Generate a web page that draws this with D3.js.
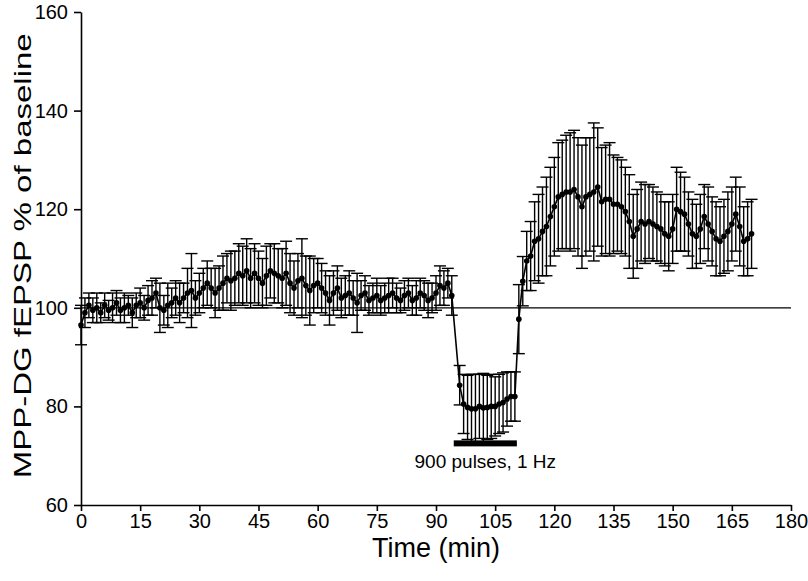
<!DOCTYPE html>
<html>
<head>
<meta charset="utf-8">
<script src="https://cdn.jsdelivr.net/npm/d3@7"></script>
<style>
  body { margin: 0; background: #fff; }
  svg { display: block; }
  .tick text { font-family: "Liberation Sans Narrow", "Liberation Sans", Arial, sans-serif; }
</style>
</head>
<body>
<div id="grafico"></div>
<script>
// baseline (min 0-94)
const tempoBase = [0,1,2,3,4,5,6,7,8,9,10,11,12,13,14,15,16,17,18,19,20,21,22,23,24,25,26,27,28,29,
  30,31,32,33,34,35,36,37,38,39,40,41,42,43,44,45,46,47,48,49,50,51,52,53,54,55,56,57,58,59,
  60,61,62,63,64,65,66,67,68,69,70,71,72,73,74,75,76,77,78,79,80,81,82,83,84,85,86,87,88,89,
  90,91,92,93,94];
const mediaBase = [96.5,99,100.5,99.5,100,99,100.5,99.5,100,101,
  99.5,100,100.5,99,100.5,101,100,101.5,102,103,
  100,99.5,100.5,101,102,101,102,103,103.5,102,
  103,104,105,104,103,104,105,106,105.5,106,
  107,106.5,107.5,106,107,106,105,106.5,107.5,107,
  106.5,106,107,105,104,105.5,106,104.5,103.5,104.5,
  105,104,103,101.5,103,104,102,102.5,103,102,
  101,102.5,103,101.5,102,102.5,101.5,102,102.5,103,
  102,101.5,102.5,103,101.5,102,103,102.5,101.5,102,
  103,104.5,104,105,102.5];
const epmBase = [4,3,2.5,2.5,3,2,2.5,2,3,2.5,
  2.5,3,2,3,2.5,3,2.5,3,3.5,3,
  5,3,4.5,3,3.5,4,3,5,7.5,3.5,
  4,4,4.5,4,5,4.5,5.5,5,6,5.5,
  6,6,6.5,6,6,5.5,5,6,5.5,6,
  5.5,6,6.5,6,5.5,5.5,8,6,7,5.5,
  5,5,4.5,5,4.5,4.5,4,4,4.5,3.5,
  6,3,3.5,3,3,3.5,3,3,3.5,3,
  3,2.5,3,3,3,3.5,3,3,3.5,3,
  3.5,4,3.5,3,4];

// durante a estimulação de baixa frequência
const tempoLFS = [96,97,98,99,100,101,102,103,104,105,106,107,108,109,110];
const mediaLFS = [84.3,80.5,79.8,79.5,79.5,80,79.7,79.8,80,80,80.5,80.8,81.5,82,82];
const epmLFS = [4,6,6.5,7,7,6.5,7,6.5,6.5,6,6,6,5.5,5,5];

// após a estimulação
const tempoPos = [111,112,113,114,115,116,117,118,119,120,121,122,123,124,125,126,127,128,129,130,
  131,132,133,134,135,136,137,138,139,140,141,142,143,144,145,146,147,148,149,150,
  151,152,153,154,155,156,157,158,159,160,161,162,163,164,165,166,167,168,169,170];
const mediaPos = [97.7,105.4,109.5,110.5,113.5,114,115.5,116.5,118.5,120.5,
  122.5,123,123.5,123.5,124,122.5,120.5,122.5,123,123.5,
  124.5,121.5,122,122,121,121,120.5,119.5,117.5,114.5,
  116,117.5,117,117.5,117,116.5,116,115,114.5,116,
  120,119.5,119,117,115,114.5,116,118.5,117,115.5,
  114,113.5,114.5,115.5,117,119,116.5,113.5,114,115];
const epmPos = [7,5,6,7,8,9,9,10,10,10,
  11,11,11.5,12,12,12,12.5,12,11.5,14,
  12,11,11,11.5,10,9.5,9.5,9,9.5,8.5,
  8,8,8,7.5,7.5,7,7,6.5,7,7,
  8.5,8,7.5,6.5,7,6.5,7,6.5,7.5,7,
  7.5,7,7.5,8,7.5,7.5,8,7,7.5,7];

const ticksX = [0,15,30,45,60,75,90,105,120,135,150,165,180];
const ticksY = [60,80,100,120,140,160];
const inicioLFS = 94.5, fimLFS = 110.5, nivelBarra = 72.5;
const rotuloLFS = "900 pulses, 1 Hz";

// junta as três fases
const pontos = [];
tempoBase.forEach((t, i) => pontos.push({t, m: mediaBase[i], e: epmBase[i]}));
tempoLFS.forEach((t, i) => pontos.push({t, m: mediaLFS[i], e: epmLFS[i]}));
tempoPos.forEach((t, i) => pontos.push({t, m: mediaPos[i], e: epmPos[i]}));

const largura = 808, altura = 581;
const x = d3.scaleLinear().domain([0, 180]).range([81, 791]);
const y = d3.scaleLinear().domain([60, 160]).range([505, 12]);

const svg = d3.select("#grafico").append("svg")
    .attr("width", largura)
    .attr("height", altura);

// linha de referência em 100%
svg.append("line")
    .attr("x1", x(0)).attr("x2", x(180))
    .attr("y1", y(100)).attr("y2", y(100))
    .attr("stroke", "#000").attr("stroke-width", 1.2);

// barras de erro
const cap = 6;
const erros = svg.append("g")
    .attr("stroke", "#000")
    .attr("stroke-width", 1.4)
  .selectAll("g")
  .data(pontos)
  .join("g");
erros.append("line")
    .attr("x1", d => x(d.t)).attr("x2", d => x(d.t))
    .attr("y1", d => y(d.m - d.e)).attr("y2", d => y(d.m + d.e));
erros.append("line")
    .attr("x1", d => x(d.t) - cap).attr("x2", d => x(d.t) + cap)
    .attr("y1", d => y(d.m + d.e)).attr("y2", d => y(d.m + d.e));
erros.append("line")
    .attr("x1", d => x(d.t) - cap).attr("x2", d => x(d.t) + cap)
    .attr("y1", d => y(d.m - d.e)).attr("y2", d => y(d.m - d.e));

// linha das médias
svg.append("path")
    .datum(pontos)
    .attr("fill", "none")
    .attr("stroke", "#000")
    .attr("stroke-width", 1.6)
    .attr("d", d3.line().x(d => x(d.t)).y(d => y(d.m)));

svg.append("g")
  .selectAll("circle")
  .data(pontos)
  .join("circle")
    .attr("cx", d => x(d.t))
    .attr("cy", d => y(d.m))
    .attr("r", 2.8)
    .attr("fill", "#000");

// barra da estimulação
svg.append("rect")
    .attr("x", x(inicioLFS))
    .attr("y", y(nivelBarra) - 3)
    .attr("width", x(fimLFS) - x(inicioLFS))
    .attr("height", 6)
    .attr("fill", "#000");

svg.append("text")
    .attr("x", x((inicioLFS + fimLFS) / 2))
    .attr("y", y(nivelBarra) + 25)
    .attr("text-anchor", "middle")
    .attr("font-family", "'Liberation Sans Narrow', 'Liberation Sans', Arial, sans-serif")
    .attr("font-size", 19)
    .text(rotuloLFS);

// eixos
const eixoX = svg.append("g")
    .attr("transform", `translate(0,${y(60)})`)
    .call(d3.axisBottom(x).tickValues(ticksX).tickSize(6).tickPadding(3).tickSizeOuter(0));
const eixoY = svg.append("g")
    .attr("transform", `translate(${x(0)},0)`)
    .call(d3.axisLeft(y).tickValues(ticksY).tickSize(7).tickPadding(6).tickSizeOuter(0));

[eixoX, eixoY].forEach(g => {
  g.selectAll(".domain, .tick line").attr("stroke", "#000").attr("stroke-width", 1.6);
  g.selectAll(".tick text").attr("font-size", 20).attr("fill", "#000");
});

svg.append("text")
    .attr("x", x(90))
    .attr("y", 557)
    .attr("text-anchor", "middle")
    .attr("font-family", "'Liberation Sans Narrow', 'Liberation Sans', Arial, sans-serif")
    .attr("font-size", 27)
    .text("Time (min)");

svg.append("text")
    .attr("transform", `translate(31,${y(100) - 52}) scale(0.72,1) rotate(-90)`)
    .attr("text-anchor", "middle")
    .attr("font-family", "'Liberation Sans', Arial, sans-serif")
    .attr("font-size", 33)
    .text("MPP-DG fEPSP % of baseline");
</script>
</body>
</html>
